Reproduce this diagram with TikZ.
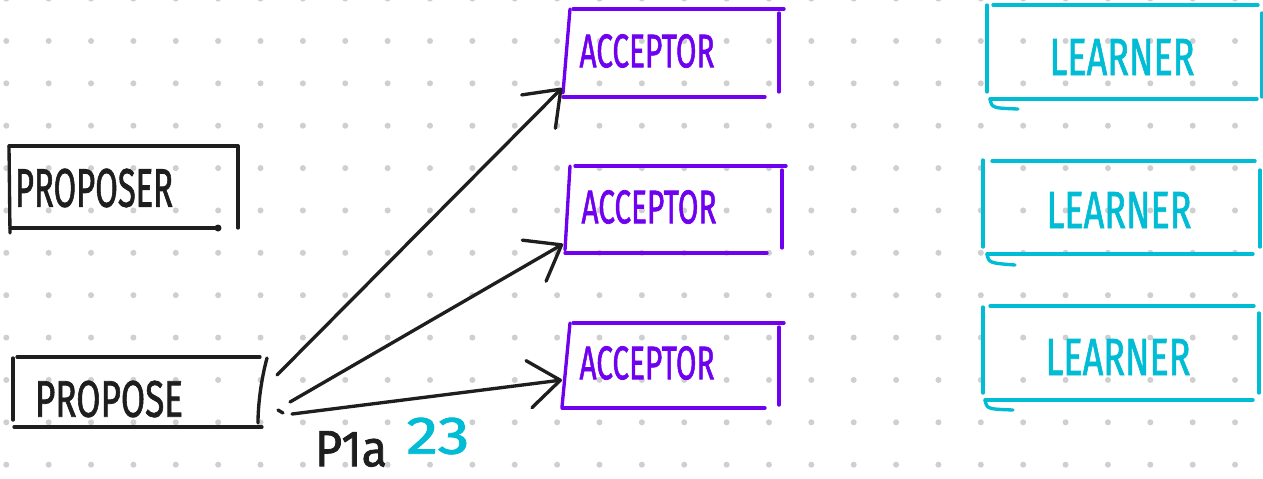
\documentclass[tikz,border=0pt]{standalone}
\usepackage{fontspec}
\setmainfont{Fira Sans}
\newfontfamily\markerfont[FakeBold=1.6]{Fira Sans}
\usepackage{graphicx}
\usetikzlibrary{arrows.meta}

\definecolor{ink}{HTML}{1E1E1E}
\definecolor{violetink}{HTML}{7000F0}
\definecolor{cyanink}{HTML}{00BCD4}
\definecolor{griddot}{HTML}{CFCFCF}

% marker-style lettering squeezed into a given width and cap height
\newcommand\sketchlabel[3]{\resizebox{#1}{#2}{\markerfont #3}}

\begin{document}
\begin{tikzpicture}[x=0.02cm,y=-0.02cm,
  stroke/.style={line width=1.9pt,line cap=round,line join=round},
  inkline/.style={stroke,draw=ink},
  accline/.style={stroke,draw=violetink},
  lrnline/.style={stroke,draw=cyanink},
  flow/.style={inkline,-{Straight Barb[length=18pt,width=27pt,round]}},
  label/.style={inner sep=0pt,outer sep=0pt},
]
% canvas
\fill[white] (0,0) rectangle (1263,478);
\useasboundingbox (0,0) rectangle (1263,478);

% dotted grid paper
\foreach \i in {0,...,29}
  \foreach \j in {0,...,11}
    \fill[griddot] ({6.3+42.37*\i},{-1.4+42.37*\j}) circle[radius=0.06cm];

% ---- proposer boxes ----
\node[label,text=ink] (proposer) at (94,188) {\sketchlabel{3.16cm}{0.76cm}{PROPOSER}};
\draw[inkline] (9,146) -- (238,146);
\draw[inkline] (9,146) -- (10,233);
\draw[inkline] (10,228) -- (218,228);
\fill[ink] (218,228) circle[radius=0.07cm];
\draw[inkline] (238,146) -- (238,228);

\node[label,text=ink] (propose) at (109,399) {\sketchlabel{2.96cm}{0.72cm}{PROPOSE}};
\draw[inkline] (17,357) -- (260,357);
\draw[inkline] (13,358) -- (13,420);
\draw[inkline] (14,427) -- (262,427);
\draw[inkline] (267,358) .. controls (261,380) and (258,405) .. (258,423);
\draw[inkline] (278,410) -- (283,413);

% ---- acceptor boxes ----
\node[label,text=violetink] (acc1) at (647,51) {\sketchlabel{2.7cm}{0.66cm}{ACCEPTOR}};
\draw[accline] (573,9) -- (784,9);
\draw[accline] (570,9) -- (563,93);
\draw[accline] (563,97) -- (765,97);
\draw[accline] (779,13) -- (779,92);

\node[label,text=violetink] (acc2) at (649,207) {\sketchlabel{2.7cm}{0.66cm}{ACCEPTOR}};
\draw[accline] (575,166) -- (786,166);
\draw[accline] (570,166) -- (565,250);
\draw[accline] (565,253) -- (767,253);
\draw[accline] (782,170) -- (782,248);

\node[label,text=violetink] (acc3) at (647,363) {\sketchlabel{2.7cm}{0.66cm}{ACCEPTOR}};
\draw[accline] (573,323) -- (784,323);
\draw[accline] (570,323) -- (562,407);
\draw[accline] (562,408) -- (765,408);
\draw[accline] (779,327) -- (779,405);

% ---- learner boxes ----
\node[label,text=cyanink] (lrn1) at (1122,57) {\sketchlabel{2.9cm}{0.72cm}{LEARNER}};
\draw[lrnline] (993,5) -- (1258,5);
\draw[lrnline] (987,5) -- (987,92);
\draw[lrnline] (990,99) -- (1257,99);
\draw[lrnline] (990,99) .. controls (992,108) .. (1018,109);
\draw[lrnline] (1262,13) -- (1262,97);

\node[label,text=cyanink] (lrn2) at (1119,210) {\sketchlabel{2.9cm}{0.72cm}{LEARNER}};
\draw[lrnline] (992,161) -- (1255,161);
\draw[lrnline] (983,160) -- (983,247);
\draw[lrnline] (987,254) -- (1253,254);
\draw[lrnline] (987,254) .. controls (989,263) .. (1015,265);
\draw[lrnline] (1260,170) -- (1260,247);

\node[label,text=cyanink] (lrn3) at (1118,357) {\sketchlabel{2.9cm}{0.72cm}{LEARNER}};
\draw[lrnline] (990,306) -- (1254,306);
\draw[lrnline] (983,307) -- (983,393);
\draw[lrnline] (985,400) -- (1253,400);
\draw[lrnline] (985,400) .. controls (987,409) .. (1013,410);
\draw[lrnline] (1259,313) -- (1259,393);

% ---- phase 1a messages ----
\coordinate (out1) at (277,375);
\coordinate (out2) at (290,402);
\coordinate (out3) at (292,414);
\coordinate (in1) at (562,88);
\coordinate (in2) at (563,244);
\coordinate (in3) at (562,380);
\draw[flow] (out1) -- (in1);
\draw[flow] (out2) -- (in2);
\draw[flow] (out3) -- (in3);

\node[label,text=ink] (msg) at (351,449) {\sketchlabel{1.44cm}{0.7cm}{P1a}};
\node[label,text=cyanink] (num) at (438,436) {\sketchlabel{1.26cm}{0.72cm}{23}};
\end{tikzpicture}
\end{document}
